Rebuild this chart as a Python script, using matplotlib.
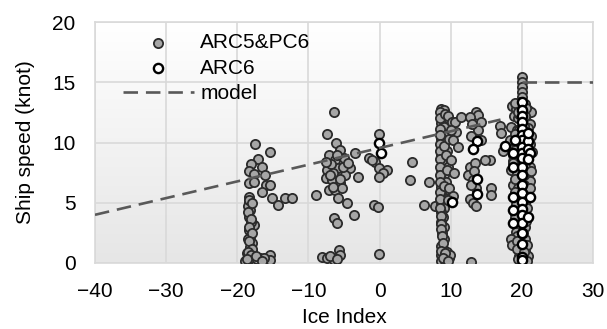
import numpy as np
import matplotlib
matplotlib.use("Agg")
import matplotlib.pyplot as plt
from matplotlib.colors import LinearSegmentedColormap

plt.rcParams['font.family'] = ['Liberation Sans', 'DejaVu Sans']

# ARC5&PC6 observations (ice index, speed in knots)
arc5_pts = [
    # around -18
    (-17.5, 9.9), (-15.4, 9.2), (-17.1, 8.6), (-18.1, 8.2), (-16.5, 8.0), (-18.4, 7.6),
    (-17.7, 7.4), (-16.1, 7.3), (-18.3, 6.6), (-17.7, 6.7), (-15.9, 6.5), (-15.4, 6.5),
    (-16.5, 5.9), (-15.1, 5.4), (-14.3, 4.8), (-13.3, 5.4), (-12.3, 5.4),
    (-18.4, 5.5), (-18.3, 4.95), (-18.2, 4.4), (-18.4, 3.85), (-17.7, 3.16), (-18.4, 2.74),
    (-18.2, 2.19), (-17.9, 1.63), (-18.2, 1.36), (-18.6, 0.8), (-18.4, 0.52), (-17.7, 0.19),
    (-16.8, 0.39), (-15.4, 0.66), (-15.4, 0.25), (-18.9, 0.19), (-18.5, 4.7), (-18.1, 3.4),
    (-18.5, 2.0), (-18.0, 1.0), (-18.3, 0.3), (-17.2, 0.3), (-16.2, 0.45),
    (-18.3, 5.2), (-18.5, 4.2), (-18.1, 3.65), (-18.4, 3.0), (-18.0, 2.45), (-18.3, 1.85),
    (-18.0, 1.2), (-18.5, 0.95), (-18.1, 0.65), (-18.6, 0.3), (-17.4, 0.55), (-16.5, 0.2),
    (-17.9, 5.0),
    # around -6
    (-6.35, 12.56), (-7.37, 10.68), (-6.1, 9.93), (-5.5, 9.38), (-7.1, 8.96), (-6.2, 8.55),
    (-5.0, 8.7), (-3.4, 9.15), (-7.37, 7.7), (-5.86, 7.85), (-4.1, 7.85), (-4.8, 7.3),
    (-3.0, 7.16), (-7.6, 7.02), (-6.7, 6.89), (-5.5, 6.61), (-7.1, 6.06), (-6.2, 6.06),
    (-5.3, 6.2), (-5.8, 5.37), (-4.6, 4.96), (-3.6, 3.99), (-6.4, 3.71), (-6.0, 3.3),
    (-9.0, 5.64), (-8.1, 0.53), (-7.4, 0.4), (-6.4, 0.25), (-5.7, 1.1), (-5.5, 0.66),
    (-6.9, 0.6), (-6.0, 0.3), (-6.8, 8.2), (-6.5, 7.5), (-7.0, 7.3), (-5.2, 8.0),
    (-6.0, 9.0), (-7.5, 8.4), (-4.5, 8.3), (-6.6, 6.3), (-5.6, 7.0),
    # around 0
    (-0.12, 10.68), (-1.5, 8.69), (-0.6, 8.4), (-0.12, 7.85), (1.0, 7.7), (0.55, 7.5),
    (-0.12, 7.1), (-1.05, 8.55), (-0.8, 4.8), (-0.25, 4.62), (-0.12, 0.71), (4.5, 8.4),
    (4.3, 6.9), (7.0, 6.75), (6.2, 4.8), (7.8, 4.75),
    # around 9
    (8.6, 12.8), (9.1, 12.7), (8.8, 12.3), (9.3, 12.0), (8.6, 11.6), (9.0, 11.3),
    (8.7, 10.9), (9.4, 10.6), (8.6, 10.3), (9.1, 10.0), (8.8, 9.6), (9.5, 9.3),
    (8.6, 9.0), (9.2, 8.7), (8.8, 8.3), (9.6, 8.0), (8.6, 7.7), (9.1, 7.3),
    (8.7, 7.0), (9.3, 6.7), (8.6, 6.3), (9.0, 6.0), (8.8, 5.6), (9.4, 5.3),
    (8.6, 5.0), (9.0, 4.6), (8.7, 4.2), (8.9, 3.8), (8.6, 3.4), (9.0, 3.0),
    (8.8, 2.5), (9.0, 2.0), (8.6, 1.4), (9.1, 1.1), (9.5, 0.9), (8.7, 0.7),
    (9.3, 0.5), (9.8, 0.4), (8.6, 0.2), (9.2, 0.2), (9.9, 0.7),
    (8.5, 12.5), (8.5, 12.0), (8.5, 11.1), (8.5, 10.6), (8.5, 9.9), (8.5, 9.3),
    (8.5, 8.6), (8.5, 8.0), (8.5, 7.3), (8.5, 6.7), (8.5, 5.9), (8.5, 5.3),
    (8.5, 4.6), (8.6, 3.9), (8.7, 3.2), (8.7, 2.8), (8.8, 2.2), (8.9, 1.7),
    (8.6, 1.0), (9.2, 0.8), (8.9, 0.45), (9.6, 0.2), (9.2, 12.4), (9.0, 9.7),
    (9.3, 9.0), (9.0, 6.4), (9.5, 7.7), (9.7, 10.3), (9.8, 6.2), (9.6, 12.2),
    (10.2, 11.7),
    (10.56, 11.72), (11.5, 12.14), (10.8, 10.9), (10.3, 10.2), (11.0, 9.65), (10.1, 8.55),
    (10.3, 5.6), (9.6, 5.2), (12.9, 0.11), (10.0, 11.0), (10.4, 7.5),
    # around 14
    (13.6, 12.5), (13.8, 12.3), (12.7, 12.1), (14.3, 11.7), (13.8, 11.0), (14.3, 10.2),
    (15.5, 8.55), (14.8, 8.55), (12.7, 8.0), (13.4, 8.3), (12.4, 7.3), (13.1, 6.9),
    (13.6, 6.2), (12.7, 5.3), (13.1, 4.95), (13.6, 4.7), (15.7, 6.2), (15.7, 5.65),
    (16.9, 11.4), (17.1, 10.8), (17.3, 9.3), (18.8, 8.5), (13.0, 11.5), (12.8, 10.5),
    (13.3, 7.6), (12.9, 6.5),
    # around 20
    (20.0, 15.4), (20.0, 15.0), (20.0, 14.6), (20.0, 14.2), (20.0, 13.8), (19.8, 13.4),
    (20.2, 13.0), (18.6, 13.0), (19.2, 12.8), (20.8, 12.7), (21.3, 12.5), (18.9, 12.2),
    (19.5, 12.0), (20.6, 11.8), (21.2, 11.5), (18.5, 11.3), (19.3, 11.0), (20.7, 10.8),
    (21.3, 10.5), (18.4, 10.2), (19.2, 9.9), (21.0, 9.6), (21.4, 9.2), (18.7, 9.0),
    (19.4, 8.7), (20.7, 8.4), (21.2, 8.0), (18.5, 7.7), (19.3, 7.4), (20.8, 7.1),
    (21.2, 6.8), (18.8, 6.5), (19.4, 6.2), (21.0, 5.5), (19.6, 12.4), (20.4, 12.2),
    (19.6, 11.0), (20.4, 10.0), (19.6, 9.0), (20.4, 8.0), (19.6, 7.0), (20.4, 6.0),
    (19.6, 5.5), (20.4, 5.0), (19.6, 4.5), (20.4, 4.0), (19.6, 3.5), (20.4, 3.0),
    (19.2, 2.6), (19.3, 2.2), (20.4, 2.0), (19.6, 1.5), (20.4, 1.0), (19.6, 0.6),
    (20.6, 0.5), (20.0, 0.3), (18.5, 2.0), (18.6, 1.5), (20.9, 0.6),
    (19.5, 13.3), (20.5, 13.2), (19.0, 13.3), (20.6, 12.9), (19.4, 12.5), (20.9, 11.2),
    (19.0, 10.7), (19.7, 10.4), (20.3, 11.4), (19.0, 9.4), (19.7, 8.4), (21.2, 9.9),
    (18.7, 8.3), (20.3, 7.3), (19.0, 7.0), (21.3, 7.6), (20.3, 6.5), (19.0, 5.9),
    (20.6, 5.4), (21.2, 6.2), (19.2, 4.9), (20.7, 4.6), (19.1, 4.1), (20.6, 3.5),
    (19.1, 3.7), (20.2, 2.5), (19.3, 1.8), (20.7, 1.5), (19.3, 1.2), (20.3, 0.9),
    (19.5, 0.3), (20.7, 0.2),
]

# ARC6 observations
arc6_pts = [
    (-0.12, 9.93), (0.27, 9.1), (10.2, 5.03),
    (13.7, 10.1), (13.1, 9.44), (13.7, 7.0), (13.7, 5.7), (17.7, 9.7),
    (20.0, 13.4), (20.0, 12.7), (20.0, 12.2), (20.0, 11.7), (20.0, 11.1), (20.0, 10.6),
    (20.0, 10.2), (20.0, 9.65), (20.0, 9.1), (20.0, 8.7), (20.0, 8.0), (20.0, 7.3),
    (20.0, 6.5), (20.0, 5.8), (20.0, 5.1), (20.0, 4.5), (20.0, 4.0), (20.0, 3.3),
    (20.0, 2.5), (20.0, 1.6), (20.0, 0.5), (20.0, 0.25),
    (19.0, 10.2), (20.9, 10.1), (20.9, 9.5), (18.8, 9.1), (18.8, 8.0), (21.1, 9.1),
    (21.1, 5.5), (18.8, 5.5), (18.8, 4.4), (18.8, 3.3), (20.9, 3.8), (20.9, 8.6),
    (20.9, 10.8),
]

# model line segments
model_x1 = [-40, 17]
model_y1 = [4.0, 11.9]
model_x2 = [20, 30]
model_y2 = [15.0, 15.0]

ax5 = np.array(arc5_pts)
ax6 = np.array(arc6_pts)

fig = plt.figure(figsize=(6.07, 3.29), dpi=100)
ax = fig.add_axes([95 / 607, 1 - 263 / 329, 498 / 607, 241 / 329])

grad = LinearSegmentedColormap.from_list('g', ['#ffffff', '#e6e6e6'])
ax.imshow(np.linspace(0, 1, 256).reshape(-1, 1), extent=[-40, 30, 0, 20],
          aspect='auto', cmap=grad, zorder=0, origin='upper')

ax.set_xlim(-40, 30)
ax.set_ylim(0, 20)
ax.set_xticks(range(-40, 31, 10))
ax.set_yticks(range(0, 21, 5))
ax.grid(True, color='#d9d9d9', linewidth=1.2, zorder=1)
ax.set_axisbelow(True)
for s in ax.spines.values():
    s.set_color('#d9d9d9')
    s.set_linewidth(1.2)
ax.tick_params(length=0, labelsize=15, pad=14, colors='black')

ax.scatter(ax5[:, 0], ax5[:, 1], s=44, c='#a6a6a6', edgecolors='#2b2b2b',
           linewidths=1.3, zorder=3, label='ARC5&PC6')
ax.scatter(ax6[:, 0], ax6[:, 1], s=44, c='white', edgecolors='black',
           linewidths=1.7, zorder=4, label='ARC6')
ln, = ax.plot(model_x1, model_y1, '--', color='#595959', lw=1.9,
              dashes=(5.5, 3), zorder=5, label='model')
ax.plot(model_x2, model_y2, '--', color='#595959', lw=1.9, dashes=(5.5, 3), zorder=5)

ax.set_xlabel('Ice Index', fontsize=15)
ax.set_ylabel('Ship speed (knot)', fontsize=15)
ax.xaxis.label.set_va('center')
ax.yaxis.label.set_va('center')
ax.xaxis.set_label_coords(0.5, -0.228)
ax.yaxis.set_label_coords(-0.14, 0.5)

leg = ax.legend(loc='upper left', bbox_to_anchor=(123 / 607, 1 - 33 / 329),
                bbox_transform=fig.transFigure, frameon=False, fontsize=15,
                borderpad=0, borderaxespad=0, labelspacing=0.32,
                handlelength=3.4, handletextpad=0.3, scatterpoints=1)

fig.savefig('out.png', dpi=100)
